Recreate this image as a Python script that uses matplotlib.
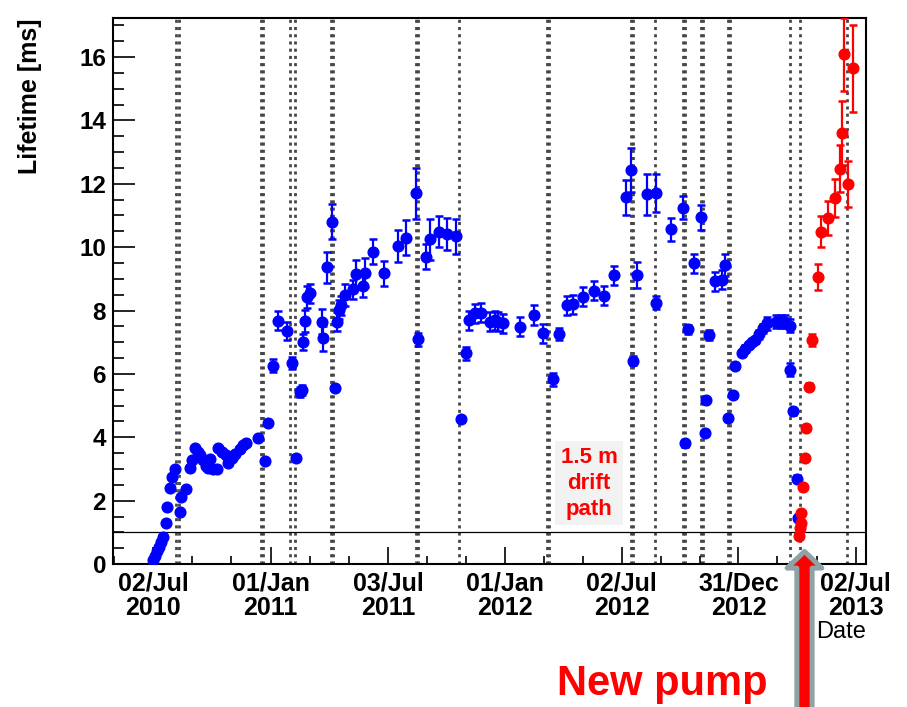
"""
Electron lifetime vs. date, with the dates of detector events marked and
the pump change highlighted.

Exports out.png.
"""

import matplotlib
matplotlib.use("Agg")
import matplotlib.pyplot as plt
import matplotlib.dates as mdates
from matplotlib.ticker import FixedLocator
import numpy as np
import pandas as pd

START = pd.Timestamp("2010-07-02")

# --- measurements before the new pump (days since START, lifetime in ms) ---
blue_days = [
    0, 3, 6, 9, 12, 15, 20, 22, 26, 29, 33, 41, 43, 51, 57, 61, 65, 70, 73,
    78, 82, 86, 88, 93, 99, 101, 107, 114, 117, 123, 127, 135, 140, 145, 164,
    174, 179, 186, 195, 209, 216, 223, 229, 232, 233, 237, 240, 244, 263, 264,
    271, 278, 283, 287, 289, 292, 299, 312, 316, 327, 330, 343, 360, 381, 394,
    410, 413, 425, 431, 445, 458, 472, 480, 488, 493, 502, 512, 525, 533, 538,
    545, 572, 594, 608, 623, 633, 645, 655, 671, 687, 703, 718, 737, 746, 749,
    754, 771, 784, 785, 807, 827, 829, 835, 843, 854, 861, 862, 867, 876, 887,
    892, 897, 904, 907, 918, 923, 930, 934, 939, 945, 951, 957, 972, 980, 985,
    993, 994, 998, 1005, 1006,
]
blue_lifetime = [
    0.12, 0.25, 0.40, 0.55, 0.70, 0.85, 1.31, 1.79, 2.39, 2.75, 3.00, 1.65,
    2.13, 2.36, 3.02, 3.30, 3.65, 3.55, 3.44, 3.30, 3.10, 3.02, 3.31, 3.00,
    2.99, 3.65, 3.55, 3.44, 3.18, 3.35, 3.49, 3.62, 3.76, 3.82, 3.97, 3.26,
    4.46, 6.26, 7.68, 7.36, 6.35, 3.35, 5.43, 5.50, 7.02, 7.68, 8.44, 8.54,
    7.65, 7.12, 9.36, 10.80, 5.55, 7.65, 8.02, 8.17, 8.49, 8.68, 9.14, 8.77,
    9.20, 9.86, 9.17, 10.03, 10.30, 11.70, 7.09, 9.70, 10.25, 10.49, 10.41,
    10.35, 4.57, 6.65, 7.70, 7.91, 7.93, 7.65, 7.70, 7.65, 7.60, 7.49, 7.86,
    7.28, 5.83, 7.26, 8.17, 8.20, 8.44, 8.62, 8.46, 9.12, 11.57, 12.43, 6.42,
    9.12, 11.67, 11.72, 8.25, 10.56, 11.25, 3.81, 7.41, 9.49, 10.94, 4.13,
    5.18, 7.23, 8.93, 8.98, 9.43, 4.62, 5.33, 6.26, 6.67, 6.80, 6.91, 7.00,
    7.07, 7.25, 7.44, 7.60, 7.65, 7.65, 7.65, 6.13, 7.52, 4.82, 2.70, 1.45,
]
blue_err = [
    0.05, 0.05, 0.05, 0.05, 0.05, 0.05, 0.05, 0.05, 0.05, 0.05, 0.05, 0.05,
    0.05, 0.05, 0.05, 0.05, 0.05, 0.05, 0.05, 0.05, 0.05, 0.05, 0.05, 0.05,
    0.05, 0.05, 0.05, 0.05, 0.05, 0.05, 0.05, 0.05, 0.05, 0.05, 0.05, 0.05,
    0.05, 0.20, 0.30, 0.28, 0.20, 0.10, 0.15, 0.15, 0.25, 0.35, 0.35, 0.30,
    0.40, 0.40, 0.50, 0.55, 0.10, 0.30, 0.30, 0.30, 0.35, 0.30, 0.45, 0.35,
    0.45, 0.40, 0.40, 0.50, 0.55, 0.80, 0.20, 0.40, 0.65, 0.50, 0.50, 0.55,
    0.10, 0.20, 0.30, 0.30, 0.30, 0.30, 0.30, 0.30, 0.30, 0.30, 0.30, 0.30,
    0.20, 0.20, 0.30, 0.30, 0.30, 0.30, 0.30, 0.30, 0.55, 0.70, 0.15, 0.40,
    0.65, 0.60, 0.20, 0.35, 0.35, 0.10, 0.15, 0.30, 0.40, 0.10, 0.10, 0.15,
    0.30, 0.30, 0.35, 0.10, 0.10, 0.10, 0.10, 0.10, 0.10, 0.10, 0.10, 0.15,
    0.15, 0.20, 0.20, 0.20, 0.20, 0.20, 0.20, 0.10, 0.10, 0.10,
]

# --- measurements after the new pump ---
red_days = [1008, 1009, 1010, 1011, 1014, 1017, 1019, 1023, 1027, 1037,
            1042, 1053, 1063, 1071, 1075, 1077, 1084, 1092]
red_lifetime = [0.90, 1.15, 1.30, 1.60, 2.42, 3.35, 4.30, 5.60, 7.07, 9.06,
                10.49, 10.92, 11.54, 12.48, 13.60, 16.08, 11.99, 15.65]
red_err = [0.05, 0.05, 0.05, 0.05, 0.05, 0.05, 0.05, 0.10, 0.20, 0.40,
           0.50, 0.55, 0.60, 0.73, 1.00, 1.15, 0.72, 1.37]

# detector events (days since START)
event_days = [35, 40, 168, 171, 213, 221, 277, 280, 410, 413, 477, 614, 617,
              745, 748, 783, 827, 830, 854, 857, 896, 899, 993, 1009, 1082]

pump_day = 1016

tick_dates = ["2010-07-02", "2011-01-01", "2011-07-03", "2012-01-01",
              "2012-07-02", "2012-12-31", "2013-07-02"]


def to_dates(days):
    return START + pd.to_timedelta(np.asarray(days, dtype=float), unit="D")


plt.rcParams["font.family"] = "Liberation Sans"
plt.rcParams["font.weight"] = "bold"
plt.rcParams["lines.scale_dashes"] = False

fig = plt.figure(figsize=(9.07, 7.07), dpi=100)
ax = fig.add_axes([0.1246, 0.2021, 0.8302, 0.7724])

# event markers
for d in to_dates(event_days):
    ax.axvline(d, color="#464646", lw=2.0, dashes=(2.2, 3.0), zorder=1)

ax.axhline(1.0, color="black", lw=0.9, zorder=1)

ax.errorbar(to_dates(blue_days), blue_lifetime, yerr=blue_err, fmt="o",
            color="#0000ff", ms=7.7, elinewidth=1.6, capsize=2.8, capthick=1.8,
            zorder=3)
ax.errorbar(to_dates(red_days), red_lifetime, yerr=red_err, fmt="o",
            color="#ff0000", ms=7.7, elinewidth=1.6, capsize=2.8, capthick=1.8,
            zorder=3)

# axes ranges and ticks
ax.set_xlim(to_dates([-63])[0], to_dates([1112])[0])
ax.set_ylim(0, 17.23)

major = mdates.date2num(pd.to_datetime(tick_dates))
step = (major[-1] - major[0]) / (len(major) - 1)
minor = np.concatenate([[major[0] - step / 3],
                        [m + k * step / 3 for m in major[:-1] for k in (1, 2)]])
ax.xaxis.set_major_locator(FixedLocator(major))
ax.xaxis.set_minor_locator(FixedLocator(minor))
ax.xaxis.set_major_formatter(mdates.DateFormatter("%d/%b\n%Y"))
ax.set_yticks(np.arange(0, 17, 2))
ax.set_yticks(np.arange(0, 17.2, 0.5), minor=True)

ax.tick_params(axis="both", which="both", direction="in", top=False, right=False)
ax.tick_params(axis="x", which="major", length=12, width=1.2, labelsize=18, pad=5)
ax.tick_params(axis="x", which="minor", length=6, width=1.2)
ax.tick_params(axis="y", which="major", length=16, width=1.2, labelsize=17.5, pad=5)
ax.tick_params(axis="y", which="minor", length=8, width=1.2)
for lab in ax.get_xticklabels():
    lab.set_linespacing(1.05)
for spine in ax.spines.values():
    spine.set_linewidth(1.5)

fig.text(30 / 907, 1 - 18 / 707, "Lifetime [ms]", rotation=90, ha="center",
         va="top", fontsize=18)
fig.text(866 / 907, 1 - 632 / 707, "Date", ha="right", va="center",
         fontsize=17, fontweight="normal")

ax.text(to_dates([680])[0], 2.55, "1.5 m\ndrift\npath", color="red",
        fontsize=16, ha="center", va="center", linespacing=1.3,
        bbox=dict(boxstyle="square,pad=0.25", fc="#f2f2f2", ec="none"),
        zorder=4)

# pump change arrow
pump_date = to_dates([pump_day])[0]
ax.annotate("", xy=(pump_date, 0.4), xycoords="data",
            xytext=(pump_date, -0.02), textcoords=("data", "figure fraction"),
            arrowprops=dict(arrowstyle="simple,head_length=12,head_width=25,tail_width=11",
                            mutation_scale=1, fc="#ff0000", ec="#8fa3a6", lw=3.6,
                            shrinkA=0, shrinkB=0),
            annotation_clip=False, zorder=6)

fig.text(662 / 907, 12 / 707, "New pump", color="#ff0000", ha="center",
         va="baseline", fontsize=30)

fig.savefig("out.png", dpi=100)
